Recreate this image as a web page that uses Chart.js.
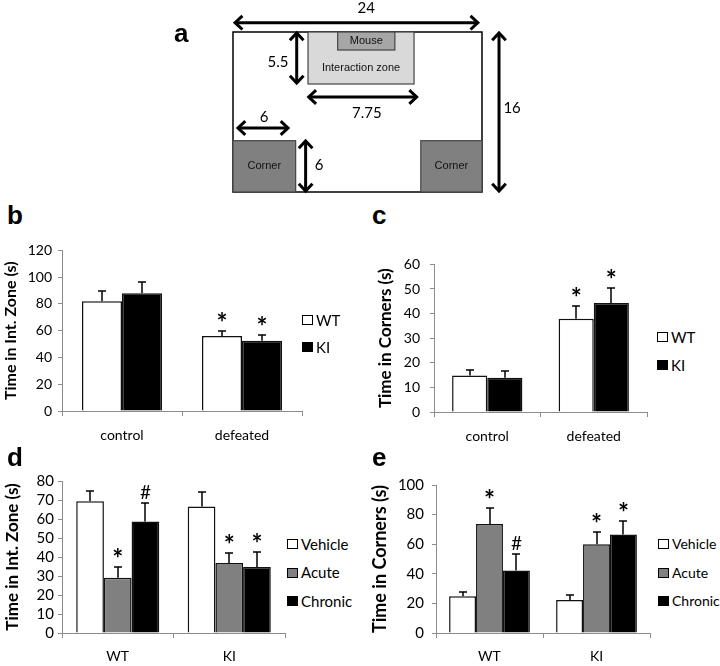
<!DOCTYPE html>
<html>
<head>
<meta charset="utf-8">
<script src="https://cdn.jsdelivr.net/npm/chart.js@4.4.1/dist/chart.umd.min.js"></script>
<style>
body { margin: 0; background: #fff; }
#page { position: relative; width: 720px; height: 666px; overflow: hidden; font-family: Lato, sans-serif; }
canvas { position: absolute; }
.tag { position: absolute; font: bold 26px "Liberation Sans", Arial, sans-serif; line-height: 26px; }
.key { position: absolute; width: 11px; height: 10px; box-sizing: border-box; border: 1.5px solid #000; }
.keytext { position: absolute; font-family: Lato, sans-serif; white-space: nowrap; color: #000; }
</style>
</head>
<body>
<div id="page">
  <canvas id="arena" width="720" height="200" style="left:0;top:0"></canvas>
  <canvas id="chartB" width="304" height="210" style="left:0;top:236px"></canvas>
  <canvas id="chartC" width="290" height="201" style="left:360px;top:246px"></canvas>
  <canvas id="chartD" width="287" height="198" style="left:0;top:468px"></canvas>
  <canvas id="chartE" width="292" height="198" style="left:360px;top:468px"></canvas>
  <div class="tag" style="left:174px;top:20px">a</div>
  <div class="tag" style="left:7px;top:202px">b</div>
  <div class="tag" style="left:372px;top:202px">c</div>
  <div class="tag" style="left:7px;top:444px">d</div>
  <div class="tag" style="left:372px;top:444px">e</div>
</div>
<script>
// panel a: arena layout, in cm
const arenaW = 24;
const arenaH = 16;
const zoneLabels = ["Interaction zone", "Mouse", "Corner", "Corner"];
const zoneLeft = [7.23, 10.09, 0, 18.1];
const zoneRight = [17.45, 15.6, 6.04, 24];
const zoneBottom = [10.8, 14.2, 0, 0];
const zoneTop = [16, 16, 5.13, 5.13];
const zoneLabelY = [12.4, 15.1, 2.6, 2.6];
const dimLabels = ["24", "16", "5.5", "7.75", "6", "6"];
const dimFrom = [[0.2, 16.93], [25.64, 0.1], [6.14, 15.9], [7.3, 9.5], [0.48, 6.4], [7.0, 0.1]];
const dimTo = [[23.6, 16.93], [25.64, 15.9], [6.14, 10.9], [17.7, 9.5], [5.3, 6.4], [7.0, 5.1]];
const dimLabelAt = [[12.85, 18.4], [26.9, 8.4], [4.34, 13.0], [12.9, 7.9], [2.99, 7.5], [8.29, 2.7]];

// panels b and c
const groupsBC = ["control", "defeated"];
const bWT = [82, 56];
const bKI = [88, 52.5];
const bWTerr = [8, 4];
const bKIerr = [8.5, 4.6];
const bWTsig = ["", "*"];
const bKIsig = ["", "*"];
const cWT = [14.8, 37.9];
const cKI = [13.9, 44.3];
const cWTerr = [2.3, 5.1];
const cKIerr = [2.8, 6.2];
const cWTsig = ["", "*"];
const cKIsig = ["", "*"];

// panels d and e
const groupsDE = ["WT", "KI"];
const dVehicle = [69.4, 66.6];
const dAcute = [29.1, 36.8];
const dChronic = [58.7, 34.8];
const dVehicleErr = [5.6, 7.4];
const dAcuteErr = [5.7, 5.2];
const dChronicErr = [9.8, 7.7];
const dVehicleSig = ["", ""];
const dAcuteSig = ["*", "*"];
const dChronicSig = ["#", "*"];
const eVehicle = [24.9, 22.3];
const eAcute = [73.6, 60.0];
const eChronic = [42.3, 66.5];
const eVehicleErr = [2.8, 3.2];
const eAcuteErr = [10.6, 8.2];
const eChronicErr = [11, 8.9];
const eVehicleSig = ["", ""];
const eAcuteSig = ["*", "*"];
const eChronicSig = ["#", "*"];

Chart.defaults.font.family = "Lato, sans-serif";
Chart.defaults.color = "#000";
Chart.defaults.animation = false;

const zoneFill = ["#d9d9d9", "#a6a6a6", "#808080", "#808080"];
const axisGray = "#8c8c8c";

function arrow(ctx, x0, y0, x1, y1) {
    ctx.beginPath();
    ctx.moveTo(x0, y0);
    ctx.lineTo(x1, y1);
    ctx.stroke();
    const t = Math.atan2(y1 - y0, x1 - x0);
    [[x1, y1, t], [x0, y0, t + Math.PI]].forEach(function(h) {
        ctx.beginPath();
        ctx.moveTo(h[0] - 10 * Math.cos(h[2] - 0.75), h[1] - 10 * Math.sin(h[2] - 0.75));
        ctx.lineTo(h[0], h[1]);
        ctx.lineTo(h[0] - 10 * Math.cos(h[2] + 0.75), h[1] - 10 * Math.sin(h[2] + 0.75));
        ctx.stroke();
    });
}

const arenaPlugin = {
    id: "arena",
    afterDraw(chart) {
        const ctx = chart.ctx, x = chart.scales.x, y = chart.scales.y;
        ctx.save();
        ctx.lineWidth = 1.5;
        ctx.strokeStyle = "#000";
        ctx.strokeRect(x.getPixelForValue(0), y.getPixelForValue(arenaH),
            x.getPixelForValue(arenaW) - x.getPixelForValue(0), y.getPixelForValue(0) - y.getPixelForValue(arenaH));
        zoneLabels.forEach(function(name, i) {
            const l = x.getPixelForValue(zoneLeft[i]), r = x.getPixelForValue(zoneRight[i]);
            const t = y.getPixelForValue(zoneTop[i]), b = y.getPixelForValue(zoneBottom[i]);
            ctx.fillStyle = zoneFill[i];
            ctx.fillRect(l, t, r - l, b - t);
            ctx.lineWidth = 1.2;
            ctx.strokeStyle = "#444";
            ctx.strokeRect(l, t, r - l, b - t);
            ctx.fillStyle = "#111";
            ctx.font = "11px 'Liberation Sans', Arial, sans-serif";
            ctx.textAlign = "center";
            ctx.textBaseline = "middle";
            ctx.fillText(name, (l + r) / 2, y.getPixelForValue(zoneLabelY[i]));
        });
        ctx.strokeStyle = "#000";
        ctx.lineWidth = 3;
        ctx.lineJoin = "miter";
        dimLabels.forEach(function(lab, i) {
            arrow(ctx, x.getPixelForValue(dimFrom[i][0]), y.getPixelForValue(dimFrom[i][1]),
                x.getPixelForValue(dimTo[i][0]), y.getPixelForValue(dimTo[i][1]));
            ctx.fillStyle = "#000";
            ctx.font = "15px Lato, sans-serif";
            ctx.textAlign = "center";
            ctx.textBaseline = "middle";
            ctx.fillText(lab, x.getPixelForValue(dimLabelAt[i][0]), y.getPixelForValue(dimLabelAt[i][1]));
        });
        ctx.restore();
    }
};

new Chart(document.getElementById("arena"), {
    type: "scatter",
    data: { datasets: [{ data: [] }] },
    options: {
        responsive: false,
        layout: { padding: { left: 233, right: 238, top: 32, bottom: 8 } },
        plugins: { legend: { display: false }, tooltip: { enabled: false } },
        scales: {
            x: { type: "linear", min: 0, max: arenaW, display: false },
            y: { type: "linear", min: 0, max: arenaH, display: false }
        }
    },
    plugins: [arenaPlugin]
});

const errorBars = {
    id: "errorBars",
    afterDatasetsDraw(chart) {
        const ctx = chart.ctx, y = chart.scales.y;
        ctx.save();
        ctx.strokeStyle = "#000";
        ctx.fillStyle = "#000";
        ctx.lineWidth = 1.5;
        chart.data.datasets.forEach(function(ds, i) {
            chart.getDatasetMeta(i).data.forEach(function(bar, j) {
                const top = Math.round(y.getPixelForValue(ds.data[j] + ds.err[j]));
                const cx = Math.round(bar.x);
                ctx.beginPath();
                ctx.moveTo(cx, bar.y);
                ctx.lineTo(cx, top);
                ctx.moveTo(cx - 4, top);
                ctx.lineTo(cx + 4, top);
                ctx.stroke();
                if (ds.sig[j]) {
                    ctx.textAlign = "center";
                    ctx.textBaseline = "alphabetic";
                    if (ds.sig[j] === "#") {
                        ctx.font = "19px Lato, sans-serif";
                        ctx.fillText("#", bar.x, top - 4);
                    } else {
                        ctx.font = "bold 26px Lato, sans-serif";
                        ctx.fillText("*", bar.x, top + 1);
                    }
                }
            });
        });
        ctx.restore();
    }
};

function barPanel(id, labels, series, o) {
    new Chart(document.getElementById(id), {
        type: "bar",
        data: {
            labels: labels,
            datasets: series.map(function(s) {
                return {
                    label: s.label, data: s.data, err: s.err, sig: s.sig,
                    backgroundColor: s.color, borderColor: "#111", borderWidth: 1.5,
                    barPercentage: 1, categoryPercentage: o.cat
                };
            })
        },
        options: {
            responsive: false,
            layout: { padding: { top: 10, right: o.right, left: 0, bottom: 0 } },
            plugins: { legend: { display: false }, tooltip: { enabled: false } },
            scales: {
                x: {
                    grid: { offset: true, drawOnChartArea: false, color: axisGray, tickLength: 5 },
                    border: { color: axisGray },
                    ticks: { font: { size: 14 }, color: "#000", padding: o.xpad },
                    afterFit(s) { s.height = o.xh; }
                },
                y: {
                    min: 0, max: o.max,
                    ticks: { stepSize: o.step, autoSkip: false, font: { size: o.tick }, color: "#000", padding: o.ypad },
                    grid: { drawOnChartArea: false, color: axisGray, tickLength: 4 },
                    border: { color: axisGray },
                    title: { display: true, text: o.title, font: { size: o.tsize, weight: "bold" }, color: "#000", padding: { top: o.tpad, bottom: 0 } },
                    afterFit(s) { s.width = o.yw; }
                }
            }
        },
        plugins: [errorBars]
    });
}

function legend(left, top, gap, size, series) {
    const page = document.getElementById("page");
    series.forEach(function(s, i) {
        const key = document.createElement("div");
        key.className = "key";
        key.style.left = left + "px";
        key.style.top = (top + i * gap) + "px";
        key.style.background = s.color;
        page.appendChild(key);
        const txt = document.createElement("div");
        txt.className = "keytext";
        txt.style.fontSize = size + "px";
        txt.style.lineHeight = size + "px";
        txt.style.left = (left + 14) + "px";
        txt.style.top = (top + i * gap + 5 - size / 2) + "px";
        txt.textContent = s.label;
        page.appendChild(txt);
    });
}

const seriesB = [
    { label: "WT", data: bWT, err: bWTerr, sig: bWTsig, color: "#fff" },
    { label: "KI", data: bKI, err: bKIerr, sig: bKIsig, color: "#000" }
];
const seriesC = [
    { label: "WT", data: cWT, err: cWTerr, sig: cWTsig, color: "#fff" },
    { label: "KI", data: cKI, err: cKIerr, sig: cKIsig, color: "#000" }
];
const seriesD = [
    { label: "Vehicle", data: dVehicle, err: dVehicleErr, sig: dVehicleSig, color: "#fff" },
    { label: "Acute", data: dAcute, err: dAcuteErr, sig: dAcuteSig, color: "#808080" },
    { label: "Chronic", data: dChronic, err: dChronicErr, sig: dChronicSig, color: "#000" }
];
const seriesE = [
    { label: "Vehicle", data: eVehicle, err: eVehicleErr, sig: eVehicleSig, color: "#fff" },
    { label: "Acute", data: eAcute, err: eAcuteErr, sig: eAcuteSig, color: "#808080" },
    { label: "Chronic", data: eChronic, err: eChronicErr, sig: eChronicSig, color: "#000" }
];

barPanel("chartB", groupsBC, seriesB, { cat: 0.667, right: 2, max: 120, step: 20, yw: 62, xh: 35, xpad: 11, ypad: 6, tick: 14, tsize: 16, tpad: 1.5, title: "Time in Int. Zone (s)" });
barPanel("chartC", groupsBC, seriesC, { cat: 0.66, right: 3, max: 60, step: 10, yw: 74, xh: 35, xpad: 11, ypad: 10, tick: 14, tsize: 17, tpad: 15, title: "Time in Corners (s)" });
barPanel("chartD", groupsDE, seriesD, { cat: 0.745, right: 2, max: 80, step: 10, yw: 62, xh: 33, xpad: 10, ypad: 4, tick: 15, tsize: 17, tpad: 2, title: "Time in Int. Zone (s)" });
barPanel("chartE", groupsDE, seriesE, { cat: 0.755, right: 2, max: 100, step: 20, yw: 76, xh: 33, xpad: 10, ypad: 8, tick: 15, tsize: 18, tpad: 9, title: "Time in Corners (s)" });

legend(302, 315, 27, 15, seriesB);
legend(657, 332, 28, 15, seriesC);
legend(287, 539, 28.5, 15, seriesD);
legend(658, 539, 28.5, 14, seriesE);
</script>
</body>
</html>
